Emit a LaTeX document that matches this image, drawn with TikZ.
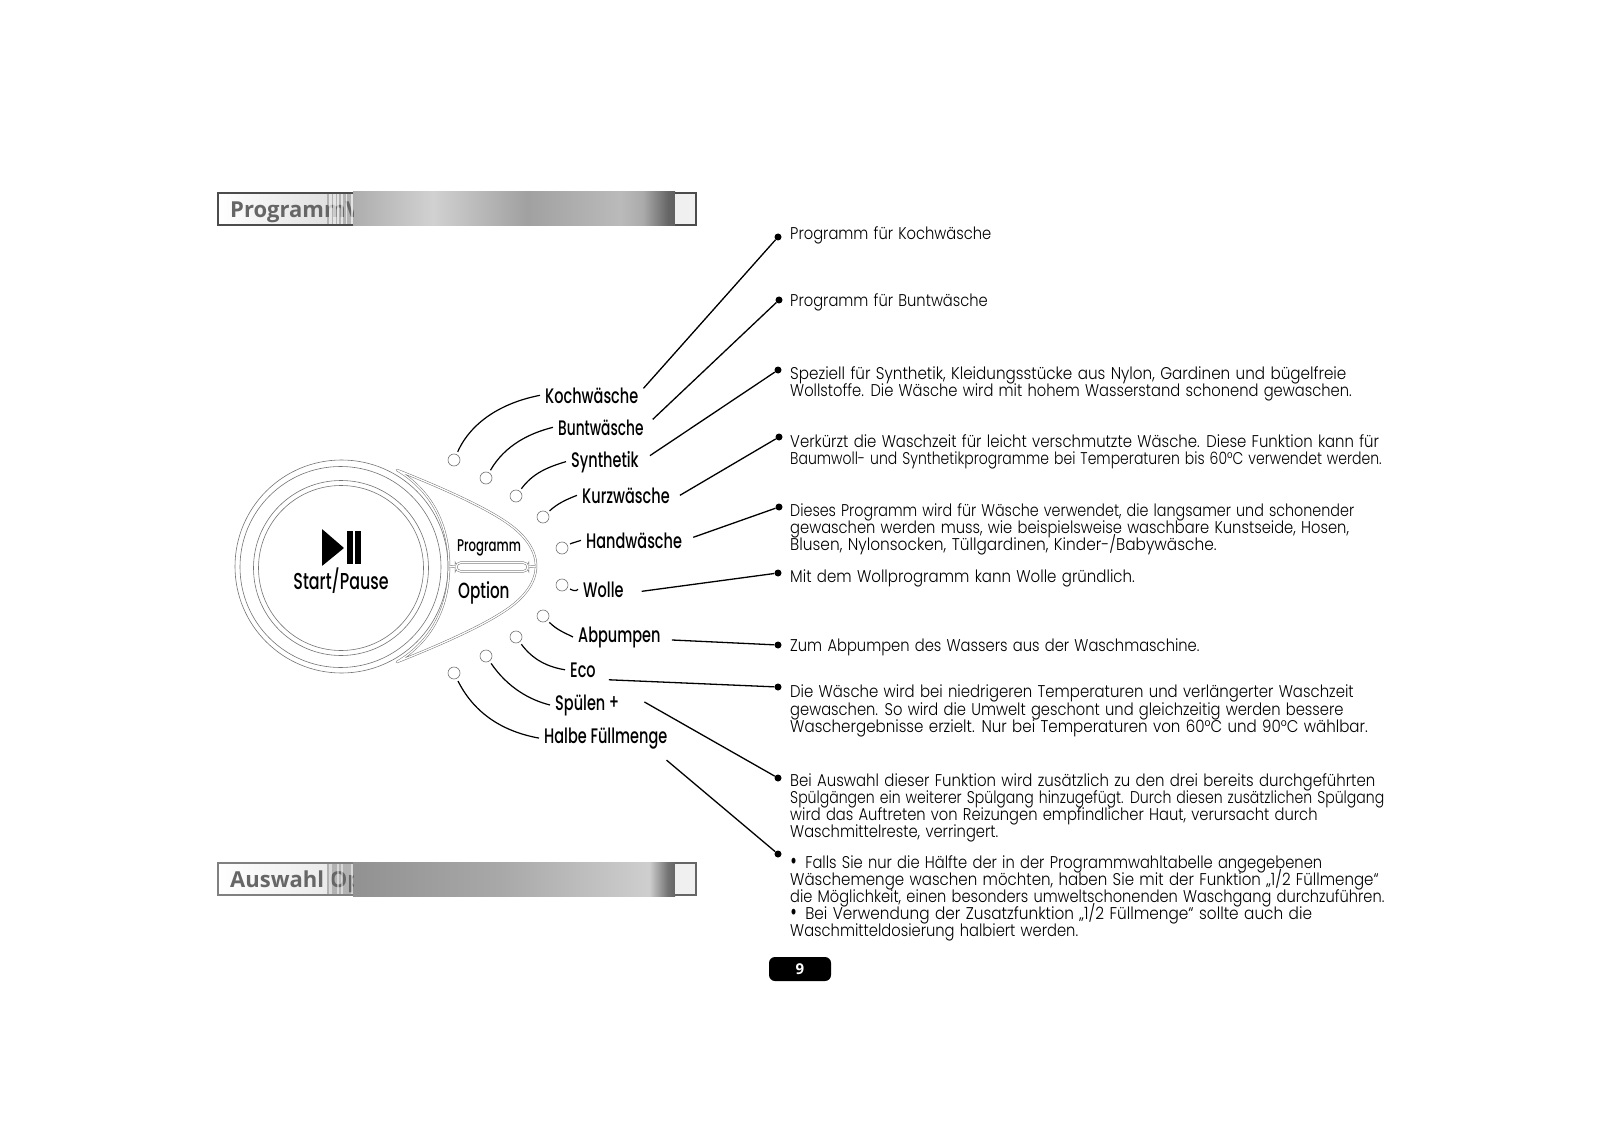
\documentclass[tikz,border=0pt]{standalone}
\usepackage{fontspec}
\usepackage{xcolor}
\usetikzlibrary{calc}
\newfontfamily\descfont{Poppins Light}[FakeStretch=0.865,WordSpace=1.3]
\newfontfamily\panelfont{Poppins Medium}[FakeStretch=0.69]
\newfontfamily\barfont{Open Sans}[BoldFont={Open Sans Bold}]
\definecolor{ringgray}{gray}{0.45}
\definecolor{bardark}{gray}{0.3}
\newcommand{\fitline}[2]{\scalebox{#1}[1]{#2}}
\newcommand{\bigdot}{\scalebox{1.3}{\panelfont •}\hspace{8pt}}
\pgfdeclarehorizontalshading{barone}{100bp}{
  color(0bp)=(black!32); color(25bp)=(black!32); color(37.4bp)=(black!18);
  color(52bp)=(black!37); color(66.5bp)=(black!27); color(70bp)=(black!33);
  color(73.9bp)=(black!60); color(75bp)=(black!62); color(100bp)=(black!62)}
\pgfdeclarehorizontalshading{bartwo}{100bp}{
  color(0bp)=(black!43); color(25bp)=(black!43); color(48bp)=(black!34);
  color(66.5bp)=(black!22); color(71bp)=(black!19);
  color(73.9bp)=(black!55); color(75bp)=(black!60); color(100bp)=(black!60)}

\begin{document}
\begin{tikzpicture}[x=1pt,y=-1pt,
  ring/.style={circle, draw=ringgray, line width=0.6pt, inner sep=0pt},
  led/.style={circle, draw=ringgray, fill=white, line width=0.6pt, inner sep=0pt,
              minimum size=12pt, outer sep=3pt},
  dot/.style={circle, fill=black, inner sep=0pt, minimum size=7pt},
  doubleline/.style={draw=ringgray, line width=0.5pt, double=white, double distance=1.3pt, line join=round},
  panel/.style={anchor=base west, inner sep=5pt, inner ysep=0pt, text=black,
                font=\panelfont\fontsize{21}{21}\selectfont},
  desc/.style={anchor=north west, inner sep=0pt, align=left,
               font=\descfont\fontsize{17}{17.1}\selectfont,
               execute at begin node={\lineskiplimit=-10pt\rule{0pt}{14pt}}},
  curve/.style={line width=1.2pt},
  lead/.style={line width=1.3pt},
  bartext/.style={anchor=base west, inner sep=0pt, font=\barfont\bfseries\fontsize{22}{22}\selectfont},
]
\useasboundingbox (0,0) rectangle (1600,1131);

% title bars
\fill[shading=barone] (353,192) rectangle (675,226);
\fill[left color=white, right color=black!12] (218,193) rectangle (327,225);
\fill[black!30] (327,193) rectangle (353,225);
\begin{scope}
  \clip (219,194) rectangle (353,224);
  \node[bartext, text=black!60] (progtitle) at (230,218) {ProgrammV};
\end{scope}
\foreach \x/\w in {329/3,333/3,337/2,341/2,346/1,351/2}
  \fill[white, opacity=0.65] (\x,193) rectangle (\x+\w,225);
\draw[bardark, line width=1.6pt] (353,193) -- (218,193) -- (218,225) -- (353,225);
\fill[black!6] (675,193) rectangle (696,225);
\draw[bardark, line width=1.6pt] (675,193) -- (696,193) -- (696,225) -- (675,225);

\fill[shading=bartwo] (353,862) rectangle (675,896);
\fill[left color=white, right color=black!8] (218,863) rectangle (327,895);
\fill[black!30] (327,863) rectangle (353,895);
\begin{scope}
  \clip (219,864) rectangle (353,894);
  \node[bartext, text=black!60] (auswtitle) at (230,887) {Auswahl Op};
\end{scope}
\foreach \x/\w in {329/3,337/2,341/2,351/2}
  \fill[white, opacity=0.5] (\x,863) rectangle (\x+\w,895);
\draw[black!50, line width=1.4pt] (353,863) -- (218,863) -- (218,895) -- (353,895);
\fill[black!6] (675,863) rectangle (696,895);
\draw[black!60, line width=1.4pt] (675,863) -- (696,863) -- (696,895) -- (675,895);

% dial
\node[ring, minimum size=213pt] (ringa) at (341.5,566.5) {};
\node[ring, minimum size=201pt] (ringb) at (340.5,567) {};
\node[ring, minimum size=175pt] (ringc) at (341,568) {};
\node[ring, minimum size=165pt] (ringd) at (341,568) {};
\coordinate (neck) at (449,566);
\coordinate (tip) at (536,566);
\draw[doubleline, fill=white] (397,470) .. controls (440,487) and (480,505) .. (503,520)
  .. controls (525,534) and (536,550) .. (tip)
  .. controls (536,582) and (525,598) .. (503,612)
  .. controls (480,627) and (440,645) .. (397,662)
  .. controls (434,640) and (449,604) .. (neck)
  .. controls (449,528) and (434,492) .. cycle;
\node[draw=ringgray, double=white, double distance=1.3pt, line width=0.5pt, rounded corners=5pt,
      minimum width=72pt, minimum height=9pt, inner sep=0pt] (slot) at (492,567) {};
\draw[doubleline] (neck) -- (slot.west);
\draw[doubleline] (slot.east) -- (tip);

% start/pause symbol
\fill[black, rounded corners=0.5pt] (322,529) -- (344,548) -- (322,566) -- cycle;
\fill[black] (347,531) rectangle (353,564);
\fill[black] (355,531) rectangle (361,564);
\node[panel, anchor=base, inner sep=0pt, font=\panelfont\fontsize{23}{23}\selectfont] (startlabel) at (341,589) {Start/Pause};
\node[panel, inner sep=0pt, font=\panelfont\fontsize{17}{17}\selectfont] (proglabel) at (457,551) {Programm};
\node[panel, inner sep=0pt, font=\panelfont\fontsize{22}{22}\selectfont] (optlabel) at (458,598) {Option};

% lamps
\node[led] (lamp1) at (454,460) {};
\node[led] (lamp2) at (486,478) {};
\node[led] (lamp3) at (516,496) {};
\node[led] (lamp4) at (543,517) {};
\node[led] (lamp5) at (562,548) {};
\node[led] (lamp6) at (562,585) {};
\node[led] (lamp7) at (543,616) {};
\node[led] (lamp8) at (516,637) {};
\node[led] (lamp9) at (486,656) {};
\node[led] (lamp10) at (454,673) {};

% programme names
\node[panel] (koch) at (540,403) {Kochwäsche};
\node[panel] (bunt) at (553,435) {\fitline{0.95}{Buntwäsche}};
\node[panel] (synth) at (566,467) {Synthetik};
\node[panel] (kurz) at (577,503) {Kurzwäsche};
\node[panel] (hand) at (581,548) {Handwäsche};
\node[panel] (wolle) at (578,597) {Wolle};
\node[panel] (abp) at (573,642) {Abpumpen};
\node[panel] (eco) at (565,677) {Eco};
\node[panel] (spuel) at (550,710) {Spülen\,\raisebox{1pt}{+}};
\node[panel] (halb) at (539,743) {Halbe Füllmenge};

\draw[curve] (lamp1) .. controls (472,420) and (505,402) .. (koch.west);
\draw[curve] (lamp2) .. controls (505,445) and (530,433) .. (bunt.west);
\draw[curve] (lamp3) .. controls (533,473) and (548,467) .. (synth.west);
\draw[curve] (lamp4) .. controls (557,504) and (565,500) .. (kurz.west);
\draw[curve] (lamp5) .. controls (572,543) and (576,542) .. (hand.west);
\draw[curve] (lamp6) .. controls (572,590) and (576,592) .. (wolle.west);
\draw[curve] (lamp7) .. controls (557,630) and (565,633) .. (abp.west);
\draw[curve] (lamp8) .. controls (533,660) and (548,667) .. (eco.west);
\draw[curve] (lamp9) .. controls (508,688) and (530,700) .. (spuel.west);
\draw[curve] (lamp10) .. controls (475,715) and (505,732) .. (halb.west);

% explanations
\node[dot] (dot1) at (778,237) {};
\node[dot] (dot2) at (779,300) {};
\node[dot] (dot3) at (778,370) {};
\node[dot] (dot4) at (779,437) {};
\node[dot] (dot5) at (779,507) {};
\node[dot] (dot6) at (778,573) {};
\node[dot] (dot7) at (778,645) {};
\node[dot] (dot8) at (778,687) {};
\node[dot] (dot9) at (778,778) {};
\node[dot] (dot10) at (778,854) {};

\node[desc] (text1) at (790,225) {Programm für Kochwäsche};
\node[desc] (text2) at (790,292) {Programm für Buntwäsche};
\node[desc] (text3) at (790,366) {\fitline{1.032}{Speziell für Synthetik, Kleidungsstücke aus Nylon, Gardinen und bügelfreie}\\Wollstoffe. Die Wäsche wird mit hohem Wasserstand schonend gewaschen.};
\node[desc] (text4) at (790,434) {\fitline{1.012}{Verkürzt die Waschzeit für leicht verschmutzte Wäsche. Diese Funktion kann für}\\\fitline{0.952}{Baumwoll- und Synthetikprogramme bei Temperaturen bis 60°C verwendet werden.}};
\node[desc] (text5) at (790,503) {\fitline{0.974}{Dieses Programm wird für Wäsche verwendet, die langsamer und schonender}\\gewaschen werden muss, wie beispielsweise waschbare Kunstseide, Hosen,\\\fitline{1.045}{Blusen, Nylonsocken, Tüllgardinen, Kinder-/Babywäsche.}};
\node[desc] (text6) at (790,568) {\fitline{1.02}{Mit dem Wollprogramm kann Wolle gründlich.}};
\node[desc] (text7) at (790,637) {Zum Abpumpen des Wassers aus der Waschmaschine.};
\node[desc] (text8) at (790,685) {\fitline{1.013}{Die Wäsche wird bei niedrigeren Temperaturen und verlängerter Waschzeit}\\gewaschen. So wird die Umwelt geschont und gleichzeitig werden bessere\\\fitline{1.025}{Waschergebnisse erzielt. Nur bei Temperaturen von 60°C und 90°C wählbar.}};
\node[desc] (text9) at (790,773) {\fitline{1.016}{Bei Auswahl dieser Funktion wird zusätzlich zu den drei bereits durchgeführten}\\\fitline{0.956}{Spülgängen ein weiterer Spülgang hinzugefügt. Durch diesen zusätzlichen Spülgang}\\wird das Auftreten von Reizungen empfindlicher Haut, verursacht durch\\Waschmittelreste, verringert.};
\node[desc] (text10) at (790,855) {\bigdot Falls Sie nur die Hälfte der in der Programmwahltabelle angegebenen\\\fitline{1.023}{Wäschemenge waschen möchten, haben Sie mit der Funktion „1/2 Füllmenge“}\\\fitline{0.993}{die Möglichkeit, einen besonders umweltschonenden Waschgang durchzuführen.}\\\bigdot\fitline{1.04}{Bei Verwendung der Zusatzfunktion „1/2 Füllmenge“ sollte auch die}\\Waschmitteldosierung halbiert werden.};

\draw[lead] ([shift={(0,-7)}]koch.east) -- (dot1);
\draw[lead] ([shift={(4,-8)}]bunt.east) -- (dot2);
\draw[lead] ([shift={(6,-6)}]synth.east) -- (dot3);
\draw[lead] ([shift={(5,0)}]kurz.east) -- (dot4);
\draw[lead] ([shift={(6,-3)}]hand.east) -- (dot5);
\draw[lead] ([shift={(13,2)}]wolle.east) -- (dot6);
\draw[lead] ([shift={(6,3)}]abp.east) -- (dot7);
\draw[lead] ([shift={(8,10)}]eco.east) -- (dot8);
\draw[lead] ([shift={(20,-3)}]spuel.east) -- (dot9);
\draw[lead] ([shift={(-6,22)}]halb.east) -- (dot10);

% page number
\node[fill=black, rounded corners=6pt, minimum width=62pt, minimum height=24pt, inner sep=0pt,
      text=white, font=\barfont\bfseries\fontsize{15}{15}\selectfont] (pagenum) at (800,969) {9};
\end{tikzpicture}
\end{document}
